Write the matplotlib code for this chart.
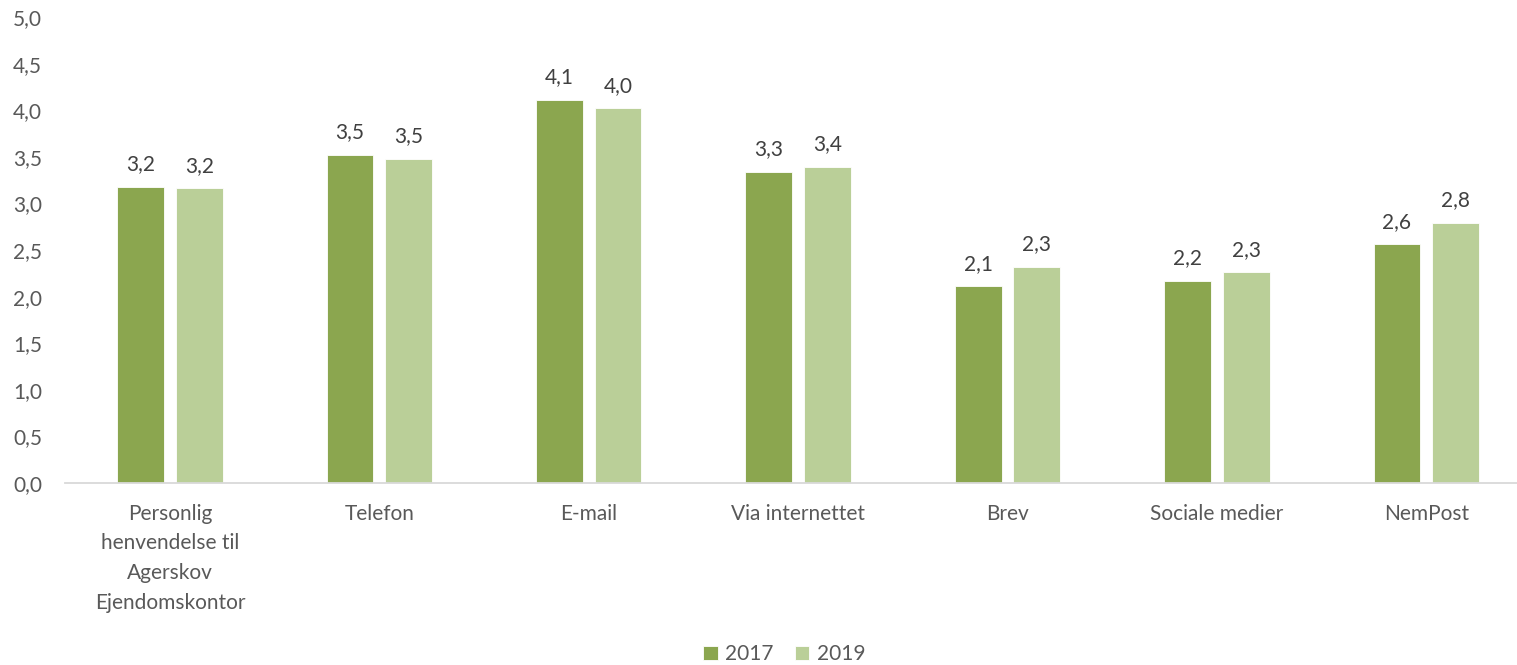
import numpy as np
import matplotlib.pyplot as plt

plt.rcParams['font.family'] = ['Lato', 'DejaVu Sans']

# Gennemsnitlig vurdering pr. kontaktform
kategorier = ["Personlig\nhenvendelse til\nAgerskov\nEjendomskontor",
              "Telefon", "E-mail", "Via internettet", "Brev",
              "Sociale medier", "NemPost"]
v2017 = [3.18, 3.52, 4.11, 3.34, 2.11, 2.17, 2.56]
v2019 = [3.16, 3.48, 4.02, 3.39, 2.32, 2.26, 2.79]
yticks = [0, 0.5, 1.0, 1.5, 2.0, 2.5, 3.0, 3.5, 4.0, 4.5, 5.0]

farve_2017 = "#8ba64f"
farve_2019 = "#bacf98"
tekst = "#404040"
akse = "#595959"

fig = plt.figure(figsize=(15.17, 6.65), dpi=100)
ax = fig.add_axes([0.0430, 0.2737, 0.9662, 0.7007])

x = np.arange(len(kategorier))
b1 = ax.bar(x - 0.14, v2017, width=0.223, color=farve_2017, label="2017",
            edgecolor="white", linewidth=0.6)
b2 = ax.bar(x + 0.14, v2019, width=0.223, color=farve_2019, label="2019",
            edgecolor="white", linewidth=0.6)

# dataetiketter med komma som decimaltegn
for bars in (b1, b2):
    for rect in bars:
        h = rect.get_height()
        ax.annotate(f"{h:.1f}".replace(".", ","),
                    (rect.get_x() + rect.get_width() / 2, h),
                    xytext=(0, 9), textcoords="offset points",
                    ha="center", va="bottom", fontsize=15, color=tekst)

ax.set_xlim(-0.5, len(kategorier) - 0.5)
ax.set_ylim(0, 5)
ax.set_yticks(yticks)
ax.set_yticklabels([f"{t:.1f}".replace(".", ",") for t in yticks])
ax.set_xticks(x)
ax.set_xticklabels(kategorier, linespacing=1.6)

for s in ("top", "right", "left"):
    ax.spines[s].set_visible(False)
ax.spines["bottom"].set_color("#d9d9d9")
ax.spines["bottom"].set_linewidth(1.3)
ax.tick_params(axis="both", length=0, labelsize=15, colors=akse)
ax.tick_params(axis="x", pad=15)
ax.tick_params(axis="y", pad=37.5)
for lbl in ax.get_yticklabels():
    lbl.set_horizontalalignment("left")

fig.legend(handles=[b1, b2], labels=["2017", "2019"], loc="center",
           bbox_to_anchor=(0.517, 0.016), ncol=2, frameon=False,
           fontsize=15, labelcolor=akse, handlelength=0.7, handleheight=0.7,
           handletextpad=0.35, columnspacing=1.0)

fig.savefig("out.png", dpi=100)
